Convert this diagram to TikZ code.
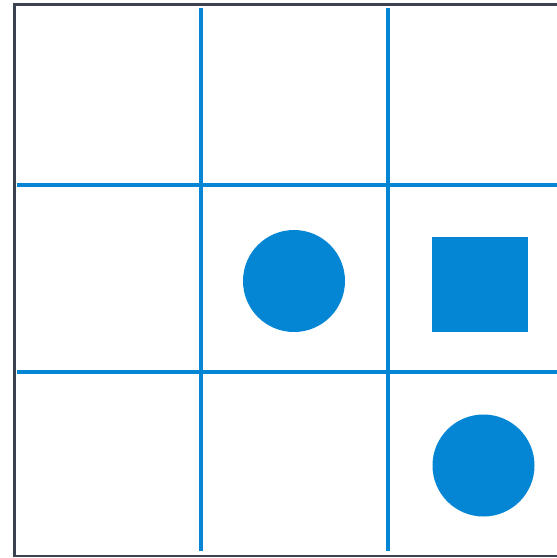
\documentclass[tikz,border=0pt]{standalone}
\begin{document}
\begin{tikzpicture}[x=1pt,y=-1pt,
  gridline/.style={draw=blueC,line width=3.5pt},
  frameline/.style={draw=frameC,line width=2.2pt},
  dot/.style={circle,fill=blueC,draw=none,minimum size=102pt,inner sep=0pt},
  block/.style={rectangle,fill=blueC,draw=none,minimum width=96pt,minimum height=95pt,inner sep=0pt}]
\definecolor{blueC}{RGB}{4,134,212}
\definecolor{frameC}{RGB}{60,66,80}
\useasboundingbox (0,0) rectangle (557,558);
\fill[white] (0,0) rectangle (557,558);
% grid lines
\draw[gridline] (201,8) -- (201,551);
\draw[gridline] (388,8) -- (388,551);
\draw[gridline] (17,185) -- (557,185);
\draw[gridline] (17,372) -- (557,372);
% frame
\draw[frameline] (570,4.5) -- (14.5,4.5) -- (14.5,556) -- (570,556);
% shapes
\node[dot] (c1) at (294,281) {};
\node[block] (s1) at (480,284.5) {};
\node[dot] (c2) at (483.5,465.5) {};
\end{tikzpicture}
\end{document}
